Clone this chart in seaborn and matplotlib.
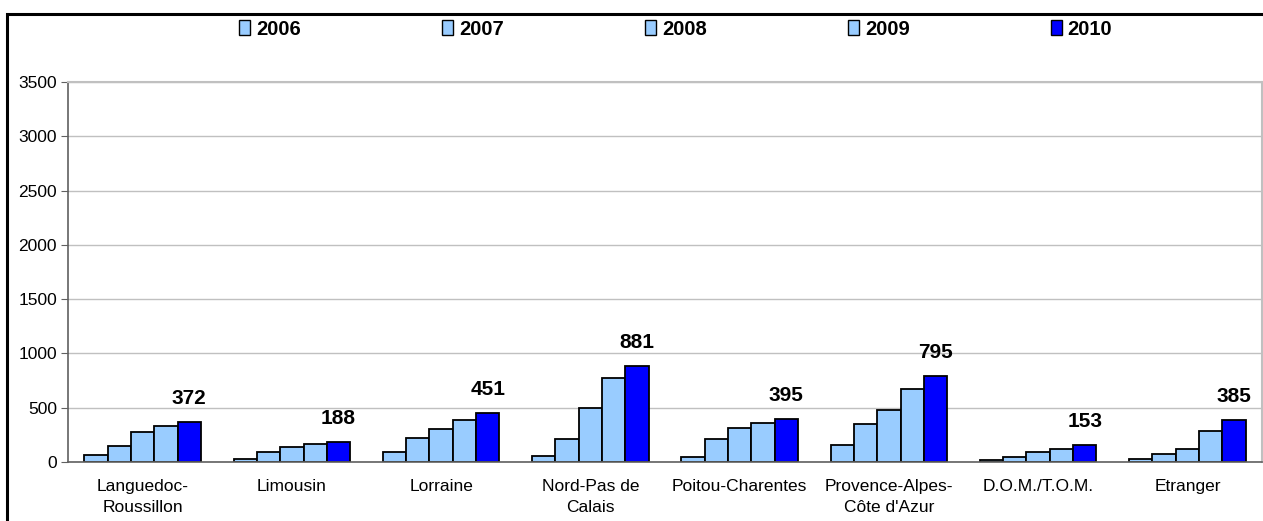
import numpy as np
import pandas as pd
import matplotlib.pyplot as plt
import seaborn as sns
from matplotlib.patches import Rectangle

regions = ["Languedoc-\nRoussillon", "Limousin", "Lorraine", "Nord-Pas de\nCalais",
           "Poitou-Charentes", "Provence-Alpes-\nCôte d'Azur", "D.O.M./T.O.M.", "Etranger"]
years = ["2006", "2007", "2008", "2009", "2010"]
v2006 = [62, 30, 92, 52, 46, 154, 15, 31]
v2007 = [151, 92, 225, 215, 212, 351, 46, 74]
v2008 = [274, 138, 302, 500, 317, 483, 95, 120]
v2009 = [332, 169, 391, 778, 363, 668, 123, 289]
v2010 = [372, 188, 451, 881, 395, 795, 153, 385]
colors = ["#99ccff", "#99ccff", "#99ccff", "#99ccff", "#0000ff"]

# long table for seaborn
rows = []
for yr, vals in zip(years, [v2006, v2007, v2008, v2009, v2010]):
    for reg, v in zip(regions, vals):
        rows.append({"Region": reg, "Year": yr, "Value": v})
df = pd.DataFrame(rows)

sns.set_style("white")
plt.rcParams["font.family"] = ["Liberation Sans", "DejaVu Sans"]
plt.rcParams["text.color"] = "black"
plt.rcParams["xtick.color"] = "black"
plt.rcParams["ytick.color"] = "black"

fig, ax = plt.subplots(figsize=(12.63, 5.21), dpi=100)
fig.subplots_adjust(left=68/1263, right=1262/1263, top=1-82/521, bottom=1-462/521)

sns.barplot(data=df, x="Region", y="Value", hue="Year", palette=colors, saturation=1,
            width=0.78, gap=0, edgecolor="black", linewidth=1.3, ax=ax)

ax.set_ylim(0, 3500)
ax.set_yticks(range(0, 3501, 500))
ax.set_xlim(-0.5, 7.5)
ax.yaxis.grid(True, color="#c0c0c0", lw=1)
ax.set_axisbelow(True)
ax.set_xlabel("")
ax.set_ylabel("")

ax.set_xticks(np.arange(-0.5, 8, 1), minor=True)
ax.tick_params(axis="x", which="major", length=0, pad=12, labelsize=12.5, labelcolor="black")
ax.tick_params(axis="x", which="minor", length=5, color="#606060", direction="out")
ax.tick_params(axis="y", length=5, color="#606060", pad=3, labelsize=12.5, left=True,
               labelcolor="black")
for lbl in ax.get_xticklabels():
    lbl.set_linespacing(1.5)

for side in ["left", "bottom"]:
    ax.spines[side].set_color("#606060")
    ax.spines[side].set_linewidth(1.2)
for side in ["top", "right"]:
    ax.spines[side].set_color("#c0c0c0")
    ax.spines[side].set_linewidth(1.5)

# labels on the 2010 bars
ax.bar_label(ax.containers[4], padding=10, fontsize=15, fontweight="bold", color="black")

handles, labels = ax.get_legend_handles_labels()
ax.legend_.remove()
for h in handles:
    h.set_edgecolor("black")
    h.set_linewidth(1)
fig.legend(handles, labels, loc="center", bbox_to_anchor=(0.535, 0.944), ncol=5,
           frameon=False, prop=dict(weight="bold", size=14.5), handlelength=0.55,
           handleheight=0.75, handletextpad=0.3, columnspacing=7.0, labelcolor="black")

# outer chart frame (only top and left visible)
fig.add_artist(Rectangle((7/1263, -0.5), 2, (521-14)/521 + 0.5, transform=fig.transFigure,
                         fill=False, edgecolor="black", lw=2.2, clip_on=False))

fig.savefig("out.png", dpi=100)
